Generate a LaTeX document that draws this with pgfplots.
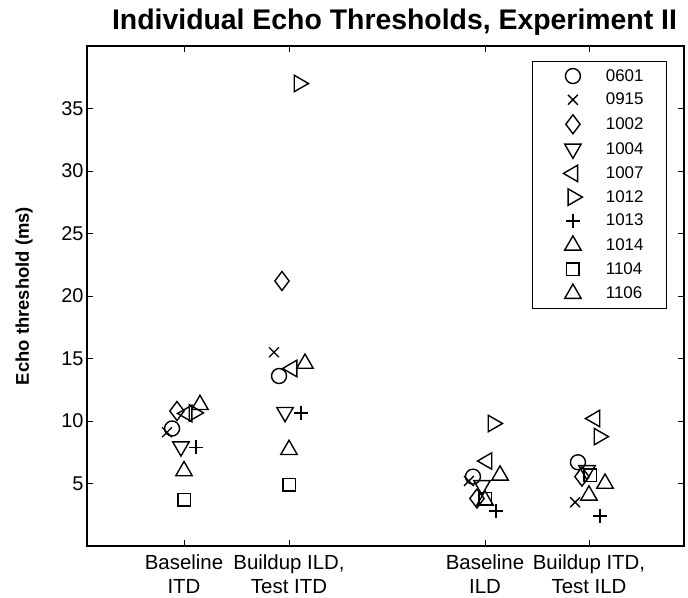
\documentclass[border=0pt]{standalone}
\usepackage{fontspec}
\setmainfont{Liberation Sans}
\usepackage{pgfplots}
\pgfplotsset{compat=1.18}

\pgfplotsset{
  subj/.style={only marks, black, line width=1.4bp, mark options={solid}},
}

\begin{document}
\begin{tikzpicture}
\path[use as bounding box] (-87bp,-52bp) rectangle (601bp,546bp);
\begin{axis}[
  scale only axis, width=597bp, height=500bp,
  xmin=0.076, xmax=5.762, ymin=0, ymax=40,
  axis line style={line width=1.3bp},
  major tick style={line width=0.8bp, black},
  major tick length=6bp,
  xtick={1,2,3.867,4.857},
  xticklabels={{Baseline\\ITD},{Buildup ILD,\\Test ITD},{Baseline\\ILD},{Buildup ITD,\\Test ILD}},
  xticklabel style={align=center, font=\fontsize{20.5}{24}\selectfont, yshift=-5bp},
  ytick={5,10,...,35},
  yticklabel style={font=\fontsize{20}{22}\selectfont},
  /pgf/number format/assume math mode=true,
  title={Individual Echo Thresholds, Experiment II},
  title style={font=\bfseries\fontsize{28.5}{32}\selectfont, xshift=9bp, yshift=1bp},
  ylabel={Echo threshold (ms)},
  ylabel style={font=\bfseries\fontsize{18.5}{22}\selectfont, at={(axis description cs:-0.1055,0.5)}, anchor=center},
  legend style={at={(axis description cs:0.9715,0.97)}, anchor=north east,
    font=\fontsize{17}{19}\selectfont, draw=black, line width=0.8bp,
    inner xsep=21bp, inner ysep=6bp, row sep=6.4bp, cells={anchor=west},
    /tikz/every odd column/.append style={column sep=11bp}},
  legend image code/.code={\path[draw=none] (0bp,0bp) rectangle (40bp,0bp);\draw[mark repeat=2,mark phase=2] plot coordinates {(0bp,0bp)(20bp,0bp)(40bp,0bp)};},
]
% 0601
\addplot[subj, mark=o, mark size=7.5bp] coordinates {(0.886,9.4)(1.905,13.6)(3.752,5.55)(4.752,6.7)};
% 0915
\addplot[subj, mark=x, mark size=7bp] coordinates {(0.838,9.1)(1.857,15.5)(3.714,5.2)(4.724,3.5)};
% 1002
\addplot[subj, mark=diamond, mark size=9.5bp] coordinates {(0.933,10.8)(1.933,21.2)(3.790,3.8)(4.790,5.55)};
% 1004
\addplot[subj, mark=triangle, mark size=9.5bp, mark options={rotate=180}] coordinates {(0.971,7.95)(1.962,10.7)(3.838,4.85)(4.838,6.05)};
% 1007
\addplot[subj, mark=triangle, mark size=9.5bp, mark options={rotate=90}] coordinates {(1.029,10.6)(2.029,14.2)(3.886,6.8)(4.914,10.2)};
% 1012
\addplot[subj, mark=triangle, mark size=9.5bp, mark options={rotate=-90}] coordinates {(1.095,10.65)(2.095,37.0)(3.943,9.8)(4.952,8.75)};
% 1013
\addplot[subj, mark=+, mark size=7bp] coordinates {(1.114,7.9)(2.114,10.65)(3.971,2.8)(4.962,2.4)};
% 1014
\addplot[subj, mark=triangle, mark size=9.5bp] coordinates {(1.152,11.3)(2.152,14.6)(4.010,5.65)(5.010,5.0)};
% 1104
\addplot[subj, mark=square, mark size=6.2bp] coordinates {(1.0,3.7)(2.0,4.9)(3.867,3.8)(4.867,5.65)};
% 1106
\addplot[subj, mark=triangle, mark size=9.5bp] coordinates {(1.0,6.0)(2.0,7.7)(3.867,3.65)(4.857,4.05)};
\legend{0601,0915,1002,1004,1007,1012,1013,1014,1104,1106}
\end{axis}
\end{tikzpicture}
\end{document}
